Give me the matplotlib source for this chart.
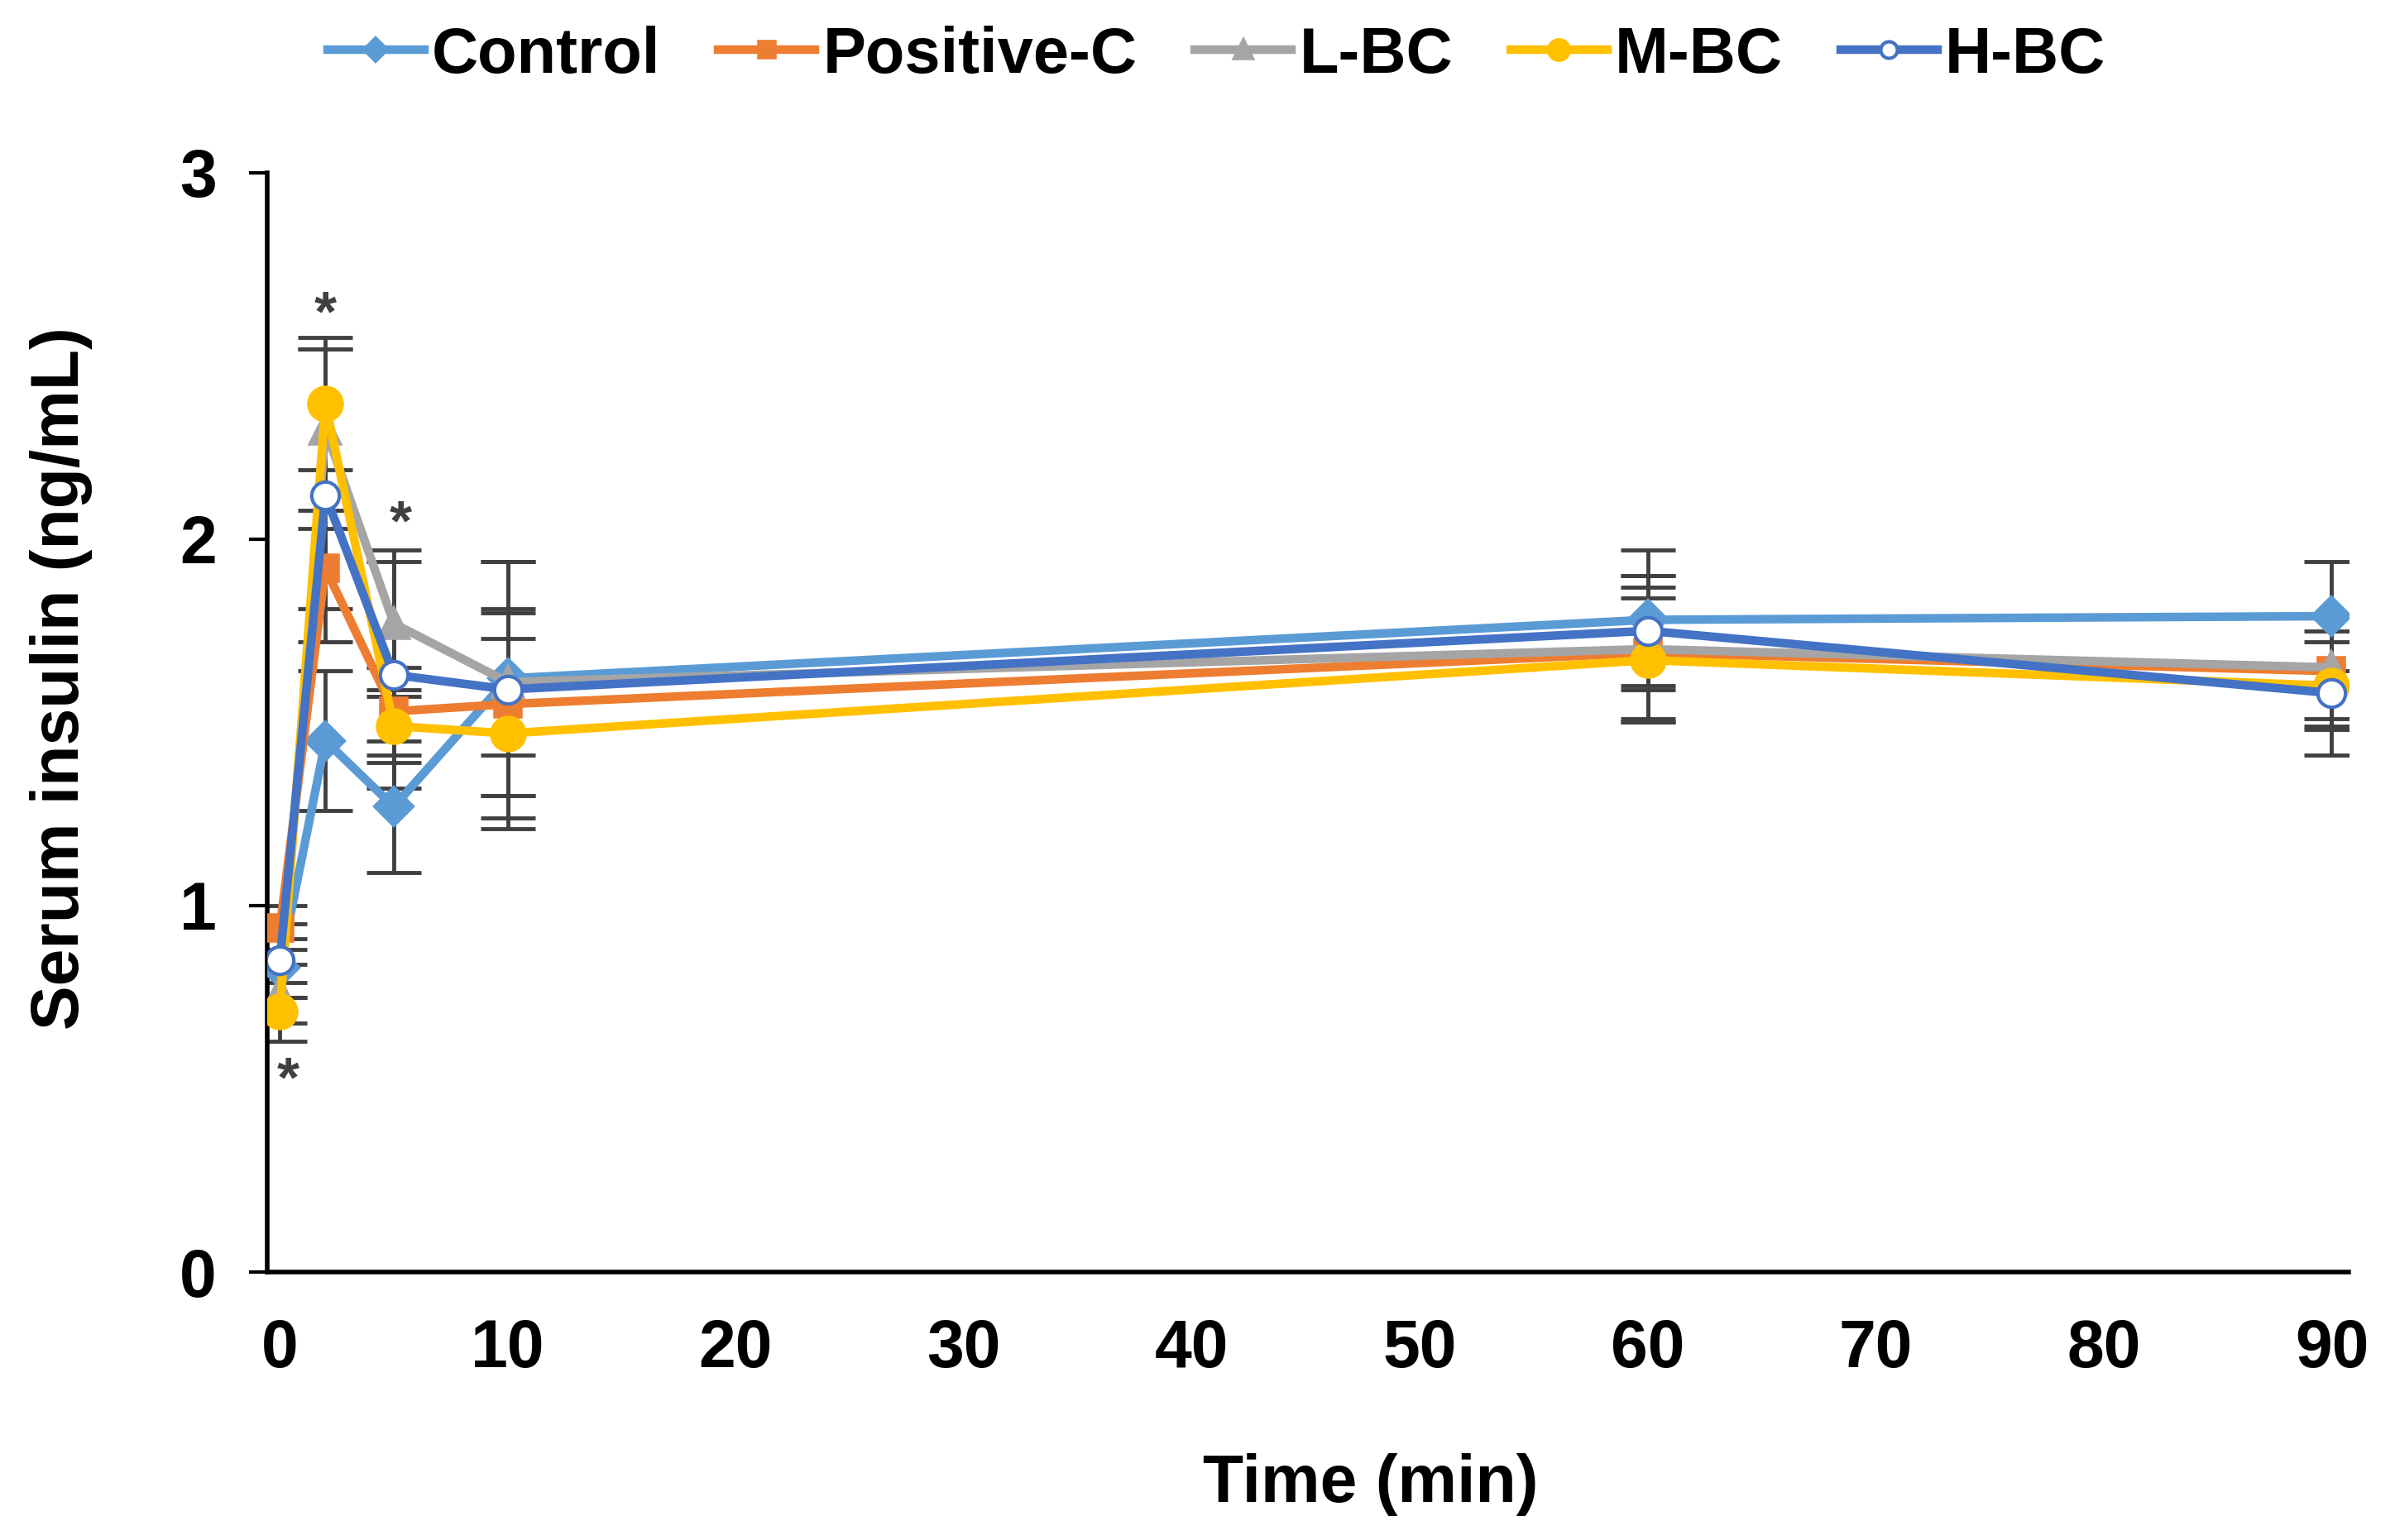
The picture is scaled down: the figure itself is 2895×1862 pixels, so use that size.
import matplotlib
matplotlib.use("Agg")
import matplotlib.pyplot as plt

time = [0, 2, 5, 10, 60, 90]
series_names = ["Control", "Positive-C", "L-BC", "M-BC", "H-BC"]
control = [0.83, 1.45, 1.27, 1.62, 1.78, 1.79]
positive_c = [0.94, 1.92, 1.53, 1.55, 1.69, 1.64]
l_bc = [0.76, 2.30, 1.77, 1.61, 1.70, 1.65]
m_bc = [0.71, 2.37, 1.49, 1.47, 1.67, 1.60]
h_bc = [0.85, 2.12, 1.63, 1.59, 1.75, 1.58]

err_control = [0.08, 0.19, 0.18, 0.32, 0.19, 0.15]
err_positive_c = [0.06, 0.11, 0.12, 0.25, 0.18, 0.15]
err_l_bc = [0.08, 0.22, 0.20, 0.20, 0.20, 0.14]
err_m_bc = [0.08, 0.18, 0.10, 0.26, 0.17, 0.12]
err_h_bc = [0.10, 0.40, 0.31, 0.35, 0.15, 0.17]

star_x = [0.35, 2.0, 5.3]
star_y = [0.52, 2.61, 2.04]

plt.rcParams['font.family'] = ['Liberation Sans', 'DejaVu Sans']
plt.rcParams['font.weight'] = 'bold'

fig = plt.figure(figsize=(28.95, 18.62), dpi=100)
ax = fig.add_axes([0.1116, 0.174, 0.9807 - 0.1116, 0.8878 - 0.174])

values = [control, positive_c, l_bc, m_bc, h_bc]
errors = [err_control, err_positive_c, err_l_bc, err_m_bc, err_h_bc]
colors = ["#5B9BD5", "#ED7D31", "#A5A5A5", "#FFC000", "#4472C4"]
markers = ["D", "s", "^", "o", "o"]
msizes = [22, 22, 24, 28, 24]
faces = ["#5B9BD5", "#ED7D31", "#A5A5A5", "#FFC000", "white"]
medges = [4, 4, 4, 4, 3]

# error bars first
for v, e in zip(values, errors):
    ax.errorbar(time, v, yerr=e, fmt='none', ecolor="#404040", elinewidth=3.5,
                capsize=24, capthick=3.5, zorder=2)

handles = []
for i, (name, v) in enumerate(zip(series_names, values)):
    h, = ax.plot(time, v, color=colors[i], lw=7.5, marker=markers[i], ms=msizes[i],
                 mfc=faces[i], mec=colors[i], mew=medges[i], label=name, zorder=3 + i)
    handles.append(h)

for sx, sy in zip(star_x, star_y):
    ax.text(sx, sy, "*", ha='center', va='center', fontsize=50, color="#404040",
            fontweight='bold', zorder=10)

ax.set_xlim(-0.55, 90.75)
ax.set_ylim(0, 3)
ax.set_xticks([0, 10, 20, 30, 40, 50, 60, 70, 80, 90])
ax.set_yticks([0, 1, 2, 3])
for s in ['top', 'right']:
    ax.spines[s].set_visible(False)
for s in ['left', 'bottom']:
    ax.spines[s].set_linewidth(4)
    ax.spines[s].set_color('black')
ax.tick_params(axis='y', length=16, width=3, pad=28, labelsize=58)
ax.tick_params(axis='x', length=0, pad=40, labelsize=58)
for lab in ax.get_xticklabels() + ax.get_yticklabels():
    lab.set_fontweight('bold')

ax.set_xlabel("Time (min)", fontsize=58, fontweight='bold')
ax.xaxis.set_label_coords(0.53, -0.165)
ax.set_ylabel("Serum insulin (ng/mL)", fontsize=58, fontweight='bold')
ax.yaxis.set_label_coords(-0.084, 0.54)

leg = fig.legend(handles=handles, loc='center', bbox_to_anchor=(0.508, 0.964), ncol=5,
                 frameon=False, fontsize=56, markerscale=0.6, handlelength=1.5,
                 handletextpad=0.12, columnspacing=0.9)
for t in leg.get_texts():
    t.set_fontweight('bold')

fig.savefig("out.png", dpi=100)
